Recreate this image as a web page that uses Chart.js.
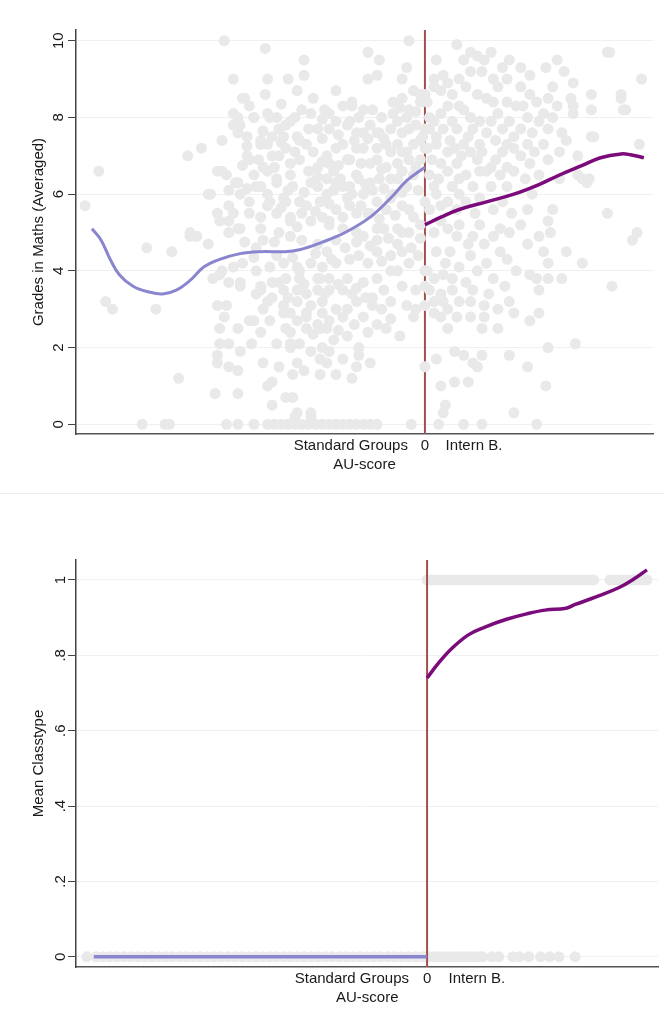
<!DOCTYPE html>
<html>
<head>
<meta charset="utf-8">
<script src="https://cdn.jsdelivr.net/npm/chart.js@4.4.1/dist/chart.umd.min.js"></script>
<style>
  html, body { margin: 0; padding: 0; background: #fff; }
  body { width: 664px; height: 1015px; overflow: hidden; }
  canvas { display: block; }
  .sep { height: 1px; background: #ededed; }
</style>
</head>
<body>
<canvas id="grades" width="664" height="493"></canvas>
<div class="sep"></div>
<canvas id="classtype" width="664" height="521"></canvas>
<script>
// tick labels
const yTicksTop = [0, 2, 4, 6, 8, 10];
const yTicksBottom = [0, 0.2, 0.4, 0.6, 0.8, 1];
const xTickValues = [-0.325, 0, 0.215];
const xTickLabels = ['Standard Groups', '0', 'Intern B.'];

// top panel: raw grades (AU-score, grade)
const gradeDotsLeft = [
  [-1.49,5.7],[-1.43,6.6],[-1.22,4.6],[-1.11,4.5],[-1.4,3.2],[-1.37,3.0],[-1.18,3.0],[-1.08,1.2],[-1.24,0],[-1.14,0],[-1.12,0],
  [-1.03,4.9],[-0.98,7.2],[-1.04,7.0],[-0.89,7.4],[-0.88,10.0],[-0.95,6.0],[-0.91,6.6],[-0.87,6.5],[-1.03,5.0],[-0.91,5.5],[-0.86,5.3],
  [-0.7,9.8],[-0.84,9.0],[-0.69,9.0],[-0.6,9.0],[-0.53,9.5],[-0.53,9.1],[-0.79,8.5],[-0.82,8.0],[-0.75,8.0],[-0.56,8.7],[-0.49,8.5],
  [-0.39,8.7],[-0.84,7.8],[-0.82,7.6],[-0.78,7.5],[-0.69,8.1],[-0.65,8.0],[-0.61,7.8],[-0.54,8.2],[-0.72,7.4],[-0.62,7.5],[-0.55,7.4],
  [-0.69,7.3],[-0.78,7.0],[-0.67,7.0],[-0.59,6.8],[-0.49,7.1],[-0.75,6.5],[-0.69,6.6],[-0.47,6.7],[-0.83,6.3],[-0.72,6.2],[-0.65,6.4],
  [-0.58,6.2],[-0.5,6.3],[-0.43,6.4],[-0.81,6.0],[-0.62,5.9],[-0.55,5.8],[-0.46,5.8],[-0.69,5.7],[-0.77,5.5],[-0.59,5.4],[-0.5,5.3],
  [-0.81,5.1],[-0.72,5.1],[-0.64,5.0],[-0.42,5.2],
  [-0.07,10.0],[-0.25,9.7],[-0.2,9.5],[-0.08,9.3],[-0.25,9.0],[-0.21,9.1],[-0.1,9.0],[-0.05,8.7],[-0.14,8.4],[-0.1,8.5],[-0.02,8.4],
  [-0.36,8.3],[-0.32,8.4],[-0.27,8.2],[-0.23,8.2],[-0.42,8.1],[-0.39,7.9],[-0.33,7.9],[-0.24,7.8],[-0.14,8.1],[-0.08,8.0],[-0.04,7.8],
  [-0.15,7.7],[-0.1,7.6],[-0.01,7.5],[-0.47,7.7],[-0.3,7.6],[-0.21,7.6],[-0.36,7.3],[-0.27,7.2],[-0.17,7.3],[-0.08,7.1],[-0.43,7.0],
  [-0.34,6.9],[-0.21,6.9],[-0.12,6.8],[-0.04,6.7],[-0.4,6.6],[-0.3,6.5],[-0.24,6.3],[-0.15,6.4],[-0.08,6.2],[-0.36,6.2],[-0.47,6.2],
  [-0.43,6.0],[-0.34,5.9],[-0.27,6.0],[-0.21,5.8],[-0.14,6.0],[-0.39,5.6],[-0.3,5.5],[-0.24,5.5],[-0.45,5.4],[-0.54,5.5],[-0.59,5.3],
  [-0.65,5.5],[-0.68,5.8],[-0.61,5.8],[-0.52,5.7],[-0.74,6.2],[-0.65,6.3],[-0.59,6.5],[-0.71,6.7],[-0.55,6.9],[-0.64,7.0],[-0.77,6.9],
  [-0.82,6.3],[-0.89,6.6],[-0.94,6.0],[-0.86,5.7],[-0.9,5.3],[-0.82,5.1],[-0.84,8.1],[-0.81,7.8],[-0.75,8.0],[-0.68,8.0],[-0.64,7.7],
  [-0.59,7.9],[-0.56,7.5],[-0.51,7.7],[-0.72,7.3],[-0.67,7.5],[-0.8,8.5],
  [-0.02,8.6],[-0.44,8.2],[-0.32,8.3],[-0.07,8.2],[-0.42,7.7],[-0.34,7.8],[-0.27,7.6],[-0.2,7.6],[-0.12,7.9],[-0.07,7.7],[-0.02,7.4],
  [-0.39,7.2],[-0.3,7.2],[-0.21,7.2],[-0.15,7.1],[-0.1,7.1],[-0.42,6.8],[-0.33,6.9],[-0.24,6.8],[-0.17,6.7],[-0.07,6.9],[-0.37,6.4],
  [-0.29,6.4],[-0.2,6.4],[-0.12,6.4],[-0.05,6.5],[-0.4,6.1],[-0.32,6.0],[-0.23,6.1],[-0.15,5.9],[-0.33,5.7],[-0.25,5.5],[-0.17,5.6],
  [-0.1,5.7],[-0.05,5.4],[-0.42,5.3],[-0.36,5.1],[-0.3,5.0],[-0.21,5.1],[-0.12,5.1],[-0.07,5.0],
  [-0.78,7.25],[-0.71,7.65],[-0.63,7.35],[-0.57,7.1],[-0.52,7.3],[-0.45,7.45],[-0.38,7.55],[-0.31,7.4],[-0.25,7.45],[-0.18,7.45],
  [-0.12,7.3],[-0.05,7.3],[-0.8,6.75],[-0.73,6.9],[-0.66,6.7],[-0.61,7.2],[-0.51,6.6],[-0.45,6.85],[-0.38,6.75],[-0.28,6.8],
  [-0.19,6.65],[-0.1,6.6],[-0.02,6.9],[-0.86,6.1],[-0.78,6.15],[-0.69,6.0],[-0.6,6.1],[-0.53,6.05],[-0.47,6.45],[-0.39,6.3],
  [-0.33,6.2],[-0.26,6.25],[-0.18,6.15],[-0.1,6.05],[-0.03,6.1],[-0.84,5.5],[-0.77,5.8],[-0.72,5.4],[-0.63,5.65],[-0.56,5.15],
  [-0.48,5.55],[-0.42,5.75],[-0.36,5.4],[-0.28,5.7],[-0.2,5.35],[-0.13,5.45],[-0.07,5.6],[-0.02,5.2],[-0.95,4.7],[-0.79,4.75],
  [-0.74,4.6],[-0.66,4.75],[-0.54,4.8],[-0.43,4.5],[-0.35,4.6],[-0.3,4.75],[-0.24,4.65],[-0.16,4.85],[-0.06,4.6],[-0.02,4.85],
  [-0.75,4.35],[-0.65,4.4],[-0.58,4.35],[-0.48,4.45],[-0.41,4.3],[-0.29,4.4],[-0.19,4.25],[-0.07,4.2],[-0.03,4.4],
  [-0.77,8.3],[-0.7,8.6],[-0.63,8.35],[-0.57,8.0],[-0.5,8.1],[-0.45,7.95],[-0.29,8.0],[-0.19,8.0],[-0.11,8.25],[-0.04,8.15],
  [-0.6,3.3],[-0.53,3.65],[-0.44,3.4],[-0.38,3.65],[-0.3,3.55],[-0.26,3.3],[-0.18,3.5],[-0.1,3.6],[-0.08,3.1],
  [-0.68,2.7],[-0.56,2.7],[-0.49,2.35],[-0.38,2.45],[-0.31,2.6],[-0.25,2.4],[-0.15,2.75],
  [-0.92,0.8],[-0.82,0.8],[-0.91,3.1],[-0.87,3.1],[-0.9,2.5],[-0.82,2.5],[-0.9,2.1],[-0.86,2.1],[-0.91,1.8],[-0.86,1.5],[-0.82,1.4],
  [-0.81,1.9],[-0.75,2.7],[-0.72,2.4],[-0.71,1.6],[-0.69,1.0],[-0.67,0.5],[-0.61,0.7],[-0.58,0.7],[-0.56,0.3],[-0.5,0.3],[-0.64,1.5],
  [-0.58,1.3],[-0.53,1.4],[-0.46,1.3],[-0.93,3.8],[-0.84,4.1],[-0.81,3.7],[-0.72,3.5],[-0.64,3.7],[-0.55,4.0],[-0.46,3.8],[-0.62,2.9],
  [-0.52,2.8],[-0.46,2.5],[-0.42,1.9],[-0.65,2.1],[-0.59,2.1],[-0.5,1.9],
  [-0.89,4.0],[-0.86,3.7],[-0.81,3.6],[-0.88,2.8],[-0.91,1.6],[-0.77,2.7],[-0.76,2.1],[-0.67,1.1],[-0.56,1.6],[-0.59,2.0],[-0.55,2.1],
  [-0.45,2.0],[-0.46,1.7],[-0.43,1.6],[-0.39,1.3],[-0.36,1.7],[-0.32,1.2],[-0.3,1.5],[-0.29,1.8],[-0.24,1.6],[-0.29,2.0],[-0.34,2.3],
  [-0.4,2.2],[-0.61,2.5],[-0.59,2.4],[-0.52,2.5],[-0.47,2.6],[-0.43,2.5],[-0.42,2.7],[-0.36,2.8],[-0.45,2.9],[-0.52,2.9],[-0.59,2.9],
  [-0.62,3.1],[-0.56,3.2],[-0.5,3.1],[-0.45,3.2],[-0.39,3.0],[-0.34,3.0],[-0.27,2.8],[-0.23,3.1],[-0.19,3.0],[-0.21,2.6],[-0.17,2.5],
  [-0.11,2.3],[-0.15,3.2],[-0.23,3.3],[-0.3,3.2],[-0.05,2.8],[-0.04,3.0],[-0.04,3.5],[-0.74,3.4],[-0.69,3.2],[-0.71,3.0],[-0.67,3.3],
  [-0.62,3.5],[-0.56,3.5],[-0.52,3.4],[-0.47,3.5],[-0.42,3.5],[-0.36,3.5],[-0.32,3.4],[-0.34,3.8],[-0.42,3.8],[-0.47,3.8],[-0.55,3.8],
  [-0.61,3.8],[-0.67,3.7],[-0.72,3.6],[-0.27,3.7],[-0.21,3.8],[-0.15,4.0],[-0.12,4.0],[-0.1,4.5],[-0.15,4.4],[-0.21,4.5],[-0.25,4.2],
  [-0.33,4.3],[-0.39,4.2],[-0.45,4.1],[-0.5,4.2],[-0.56,4.1],[-0.62,4.2],[-0.68,4.1],[-0.74,4.0],[-0.8,4.2],[-0.9,3.9],
  [-1.0,4.9],[-0.86,5.0],[-0.71,4.8],[-0.59,4.9],[-0.47,4.7],[-0.39,4.8],[-0.27,4.9],[-0.21,4.8],[-0.12,4.7],[-0.1,5.0],[-0.18,5.1],
  [-0.57,0.2],[-0.5,0.2],
  [-0.87,0],[-0.82,0],[-0.75,0],[-0.69,0],[-0.66,0],[-0.63,0],[-0.6,0],[-0.57,0],[-0.54,0],[-0.51,0],[-0.48,0],[-0.45,0],
  [-0.42,0],[-0.39,0],[-0.36,0],[-0.33,0],[-0.3,0],[-0.27,0],[-0.24,0],[-0.21,0],[-0.06,0],
  [0,8.6],[0,7.7],[0,7.2],[0,5.8],[0,4.0],[0,3.6],[0,3.1],[0,1.5]
];
const gradeDotsRight = [
  [0.14,9.9],[0.2,9.7],[0.29,9.7],[0.05,9.5],[0.17,9.5],[0.23,9.6],[0.26,9.5],[0.37,9.5],[0.58,9.5],[0.8,9.7],[0.95,9.0],[0.04,9.0],
  [0.08,9.1],[0.15,9.0],[0.25,9.2],[0.3,9.0],[0.36,9.0],[0.46,9.1],[0.53,9.3],[0.61,9.2],[0.65,8.9],[0.07,8.7],[0.12,8.6],[0.18,8.8],
  [0.23,8.6],[0.32,8.8],[0.42,8.8],[0.46,8.6],[0.56,8.8],[0.73,8.6],[0.86,8.6],[0.01,8.4],[0.1,8.3],[0.15,8.3],[0.27,8.5],[0.36,8.4],
  [0.4,8.3],[0.49,8.4],[0.54,8.5],[0.58,8.3],[0.65,8.3],[0.73,8.2],[0.88,8.2],[0.02,8.0],[0.07,8.1],[0.12,7.9],[0.2,8.0],[0.24,7.9],
  [0.32,8.1],[0.37,7.9],[0.45,8.0],[0.5,7.9],[0.56,8.0],[0.65,8.1],[0.02,7.7],[0.08,7.7],[0.14,7.7],[0.21,7.7],[0.27,7.6],[0.34,7.7],
  [0.42,7.7],[0.47,7.6],[0.54,7.7],[0.73,7.5],[0.05,7.3],[0.11,7.4],[0.17,7.3],[0.24,7.3],[0.31,7.4],[0.36,7.3],[0.45,7.3],[0.52,7.3],
  [0.62,7.4],[0.01,7.2],[0.1,7.1],[0.16,7.0],[0.25,7.1],[0.34,7.1],[0.42,7.0],[0.54,6.9],[0.59,7.1],[0.67,7.0],[0.94,7.3],[0.07,6.8],
  [0.14,6.8],[0.23,6.9],[0.29,6.7],[0.36,6.7],[0.46,6.8],[0.02,6.5],[0.1,6.6],[0.18,6.5],[0.27,6.6],[0.33,6.5],[0.39,6.6],[0.5,6.5],
  [0.59,6.4],[0.67,6.5],[0.71,6.3],[0.04,6.2],[0.12,6.2],[0.21,6.2],[0.29,6.2],[0.36,6.2],[0.1,5.8],[0.18,5.8],[0.47,6.0],[0.02,5.6],
  [0.14,5.6],[0.3,5.6],[0.45,5.6],[0.56,5.6],[0.8,5.5],[0.07,5.3],[0.15,5.2],[0.24,5.2],[0.33,5.1],[0.42,5.2],[0.54,5.3],
  [0.81,9.7],[0.86,8.5],[0.87,8.2],[0.64,8.5],[0.69,6.4],[0.72,6.4],[0.74,7.5],
  [0.04,8.8],[0.1,8.9],[0.2,9.2],[0.34,9.3],[0.42,9.3],[0.04,7.9],[0.17,8.2],[0.3,8.4],[0.43,8.3],[0.52,8.1],[0.05,7.5],[0.19,7.5],
  [0.29,7.9],[0.39,7.5],[0.6,7.6],[0.03,6.9],[0.13,7.2],[0.2,7.1],[0.31,6.9],[0.39,7.2],[0.48,7.1],[0.06,6.4],[0.15,6.4],[0.24,6.6],
  [0.44,6.4],[0.05,6.0],[0.15,6.0],[0.24,5.9],[0.34,5.8],[0.07,5.7],[0.22,5.5],[0.38,5.5],[0.1,5.1],[0.19,4.7],[0.26,4.7],[0.09,4.2],
  [0.15,4.1],[0.04,3.8],[0.18,3.7],[0.3,3.8],[0.12,3.5],[0.2,3.2],[0.04,2.9],[0.2,2.8],
  [0.04,5.0],[0.14,4.9],[0.21,4.9],[0.3,4.9],[0.37,5.0],[0.45,4.7],[0.5,4.9],[0.55,5.0],[0.93,5.0],[0.91,4.8],[0.05,4.5],[0.11,4.5],
  [0.2,4.4],[0.27,4.2],[0.33,4.5],[0.36,4.3],[0.4,4.0],[0.52,4.5],[0.54,4.2],[0.62,4.5],[0.69,4.2],[0.01,4.0],[0.08,3.9],[0.12,3.8],
  [0.23,4.0],[0.46,3.9],[0.49,3.8],[0.54,3.8],[0.6,3.8],[0.82,3.6],[0.02,3.5],[0.07,3.4],[0.21,3.5],[0.28,3.4],[0.35,3.6],[0.5,3.5],
  [0.04,3.2],[0.08,3.2],[0.15,3.2],[0.26,3.1],[0.32,3.0],[0.37,3.2],[0.1,3.0],[0.39,2.9],[0.5,2.9],[0.07,2.8],[0.14,2.8],[0.26,2.8],
  [0.46,2.7],[0.1,2.5],[0.25,2.5],[0.32,2.5],[0.66,2.1],[0.54,2.0],[0.13,1.9],[0.17,1.8],[0.21,1.6],[0.25,1.8],[0.37,1.8],[0.05,1.7],
  [0.45,1.5],[0.23,1.5],[0.13,1.1],[0.19,1.1],[0.07,1.0],[0.53,1.0],[0.09,0.5],[0.08,0.3],[0.39,0.3],[0.06,0],[0.17,0],[0.25,0],[0.49,0]
];
// top panel: smoothed fits
const gradeFitLeft = [
  [-1.46,5.1],[-1.42,4.8],[-1.38,4.3],[-1.34,3.9],[-1.28,3.6],[-1.21,3.45],[-1.15,3.4],[-1.09,3.5],[-1.03,3.75],[-0.97,4.1],
  [-0.9,4.3],[-0.81,4.45],[-0.72,4.5],[-0.62,4.5],[-0.55,4.55],[-0.45,4.75],[-0.35,5.0],[-0.24,5.4],[-0.15,5.9],[-0.08,6.35],[0,6.7]
];
const gradeFitRight = [
  [0,5.2],[0.07,5.4],[0.15,5.6],[0.27,5.8],[0.39,6.0],[0.5,6.25],[0.59,6.5],[0.69,6.75],[0.77,6.95],[0.86,7.05],[0.9,7.03],[0.96,6.95]
];

// bottom panel: class type (0/1) dots and fits
const classZeroLeftX = [
  -1.47,-1.43,-1.40,-1.37,-1.34,-1.31,-1.28,-1.25,-1.22,-1.19,-1.16,-1.13,-1.10,-1.07,-1.04,-1.01,-0.98,-0.95,-0.92,-0.89,
  -0.86,-0.83,-0.80,-0.77,-0.74,-0.71,-0.68,-0.65,-0.62,-0.59,-0.56,-0.53,-0.50,-0.47,-0.44,-0.41,-0.38,-0.35,-0.32,-0.29,
  -0.26,-0.23,-0.20,-0.17,-0.14,-0.11,-0.08,-0.05,-0.02,0
];
const classZeroRightX = [
  0.01,0.03,0.05,0.07,0.09,0.11,0.13,0.15,0.17,0.19,0.21,0.23,0.24,0.28,0.31,0.37,0.40,0.44,0.49,0.53,0.57,0.64
];
const classOneRightX = [
  0.0,0.02,0.04,0.06,0.08,0.10,0.12,0.14,0.16,0.18,0.20,0.22,0.24,0.26,0.28,0.30,0.32,0.34,0.36,0.38,0.40,0.42,0.44,0.46,
  0.48,0.50,0.52,0.54,0.56,0.58,0.60,0.62,0.64,0.66,0.68,0.70,0.72,0.79,0.81,0.83,0.85,0.87,0.89,0.91,0.93,0.95
];
const classFitLeft = [[-1.44,0],[0,0]];
const classFitRight = [
  [0,0.74],[0.05,0.78],[0.11,0.82],[0.18,0.855],[0.25,0.875],[0.34,0.895],[0.43,0.91],[0.51,0.92],[0.6,0.925],
  [0.64,0.935],[0.73,0.955],[0.83,0.98],[0.9,1.005],[0.95,1.027]
];

const FONT = "'Liberation Sans', Arial, Helvetica, sans-serif";
Chart.defaults.font.family = FONT;
Chart.defaults.font.size = 15;
Chart.defaults.color = '#1a1a1a';

const DOT = '#e9e9e9';
const FIT_LEFT = '#8a85cf';
const FIT_RIGHT = '#7b0a7b';
const CUTOFF = '#a2504e';

const toPts = arr => arr.map(p => ({ x: p[0], y: p[1] }));

function fmtShare(v) {
  if (v === 0) return '0';
  if (v === 1) return '1';
  return v.toFixed(1).replace(/^0/, '');
}

function panel(id, cfg) {
  new Chart(document.getElementById(id), {
    type: 'scatter',
    data: { datasets: cfg.datasets },
    options: {
      responsive: false,
      animation: false,
      layout: { padding: { top: cfg.padTop, right: cfg.padRight, bottom: 0, left: 0 } },
      plugins: { legend: { display: false }, tooltip: { enabled: false } },
      scales: {
        x: {
          type: 'linear',
          min: cfg.xMin, max: cfg.xMax,
          afterBuildTicks: s => { s.ticks = xTickValues.map(v => ({ value: v })); },
          afterFit: s => { s.height = cfg.xHeight; },
          ticks: { autoSkip: false, maxRotation: 0, minRotation: 0, padding: 3,
                   callback: (v, i) => xTickLabels[i] },
          grid: { display: false, drawTicks: false },
          border: { display: true, color: '#555', width: 1.5 },
          title: { display: true, text: 'AU-score', padding: { top: 0, bottom: cfg.xTitlePad } }
        },
        y: {
          min: cfg.yMin, max: cfg.yMax,
          afterBuildTicks: s => { s.ticks = cfg.yTicks.map(v => ({ value: v })); },
          afterFit: s => { s.width = 76; },
          ticks: { minRotation: 90, maxRotation: 90, crossAlign: 'center', padding: 1,
                   callback: cfg.yFormat },
          grid: { color: '#edf1f4', tickColor: '#444', tickLength: 8, lineWidth: 1 },
          border: { color: '#444', width: 1.5 },
          title: { display: true, text: cfg.yTitle, padding: { top: 30, bottom: 0 } }
        }
      }
    }
  });
}

const topYMin = -0.253, topYMax = 10.28;
panel('grades', {
  padTop: 30, padRight: 11, xHeight: 59, xTitlePad: 19,
  xMin: -1.53, xMax: 1.0, yMin: topYMin, yMax: topYMax,
  yTicks: yTicksTop, yFormat: v => String(v),
  yTitle: 'Grades in Maths (Averaged)',
  datasets: [
    { data: toPts(gradeFitLeft), showLine: true, borderColor: FIT_LEFT, borderWidth: 3, pointRadius: 0, tension: 0.4, order: 0 },
    { data: toPts(gradeFitRight), showLine: true, borderColor: FIT_RIGHT, borderWidth: 3.5, pointRadius: 0, tension: 0.4, order: 0 },
    { data: toPts(gradeDotsLeft.concat(gradeDotsRight)), backgroundColor: DOT, borderWidth: 0, pointRadius: 5.5, order: 1 },
    { data: [{ x: 0, y: topYMin }, { x: 0, y: topYMax }], showLine: true, borderColor: CUTOFF, borderWidth: 2, pointRadius: 0, order: 2 }
  ]
});

const botYMin = -0.027, botYMax = 1.053;
panel('classtype', {
  padTop: 66, padRight: 4, xHeight: 48, xTitlePad: 8,
  xMin: -1.517, xMax: 1.0, yMin: botYMin, yMax: botYMax,
  yTicks: yTicksBottom, yFormat: fmtShare,
  yTitle: 'Mean Classtype',
  datasets: [
    { data: toPts(classFitLeft), showLine: true, borderColor: FIT_LEFT, borderWidth: 3.5, pointRadius: 0, order: 0 },
    { data: toPts(classFitRight), showLine: true, borderColor: FIT_RIGHT, borderWidth: 3.5, pointRadius: 0, tension: 0.4, order: 0 },
    { data: [{ x: 0, y: botYMin }, { x: 0, y: botYMax }], showLine: true, borderColor: CUTOFF, borderWidth: 2, pointRadius: 0, order: 1 },
    { data: classZeroLeftX.concat(classZeroRightX).map(x => ({ x: x, y: 0 }))
              .concat(classOneRightX.map(x => ({ x: x, y: 1 }))),
      backgroundColor: DOT, borderWidth: 0, pointRadius: 5.5, order: 2 }
  ]
});
</script>
</body>
</html>
